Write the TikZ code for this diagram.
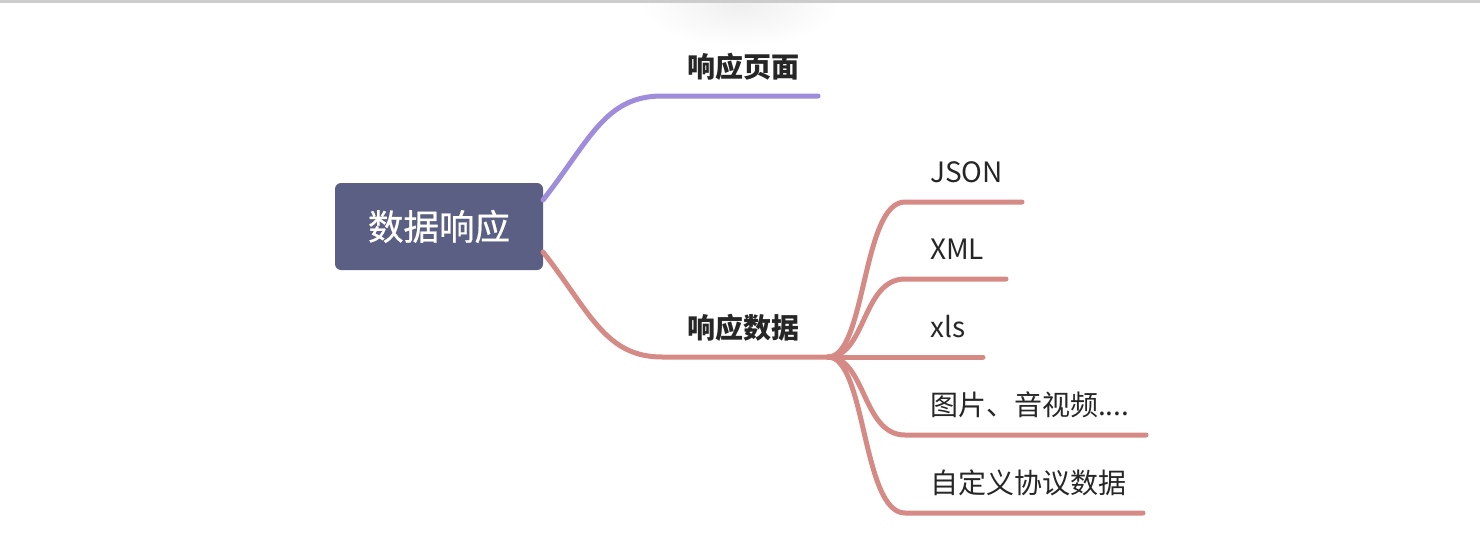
\documentclass[tikz,border=0pt]{standalone}
\usepackage{fontspec}
\newfontfamily\cjk{Noto Sans CJK SC}
\newfontfamily\cjkmed[FakeBold=0.6]{Noto Sans CJK SC}
\usetikzlibrary{calc}
\definecolor{rootfill}{HTML}{5B5F83}
\definecolor{pagecol}{HTML}{9F8CDB}
\definecolor{datacol}{HTML}{D68A85}
\definecolor{txt}{HTML}{262626}

\begin{document}
\begin{tikzpicture}[x=1pt, y=-1pt,
    rootbox/.style={fill=rootfill, rounded corners=6pt, minimum width=208pt,
        minimum height=87pt, text=white, font=\cjkmed\fontsize{35.5}{38}\selectfont},
    topic/.style={text=txt, font=\cjk\bfseries\fontsize{28}{32}\selectfont},
    leaf/.style={text=txt, anchor=west, inner sep=0pt, font=\cjk\fontsize{28}{32}\selectfont},
    branch/.style={line width=5pt, line cap=round}]
    \useasboundingbox (0,0) rectangle (1480,546);
    % frame top and shadow
    \shade[inner color=black!6, outer color=white, draw=none] (740,6) ellipse (100 and 40);
    \fill[black!20] (0,0) rectangle (1480,2.5);

    % root
    \node[rootbox] (root) at (439,226.5) {数据响应};

    % first level
    \node[topic] (page) at (743,67) {响应页面};
    \node[topic] (data) at (743,328) {响应数据};
    \coordinate (page-s) at (662,96);
    \coordinate (page-e) at (818,96);
    \coordinate (data-s) at (662,357);
    \coordinate (data-e) at (828,357);
    \coordinate (root-up) at (543,200);
    \coordinate (root-dn) at (543,252);

    \draw[branch, pagecol] (root-up) .. controls (590,140) and (605,96) .. (page-s) -- (page-e);
    \draw[branch, datacol] (root-dn) .. controls (590,312) and (605,357) .. (data-s) -- (data-e);

    % second level
    \foreach \name/\txt/\y/\len in {json/JSON/202/1022, xml/XML/279/1006,
        xls/xls/357/983, media/{图片、音视频....}/435/1146, custom/自定义协议数据/513/1143} {
        \node[leaf] (\name) at (930,\y-30) {\txt};
        \coordinate (\name-e) at (\len,\y);
        \draw[branch, datacol] (data-e) .. controls (866,357) and (862,\y) .. (905,\y) -- (\name-e);
    }
\end{tikzpicture}
\end{document}
